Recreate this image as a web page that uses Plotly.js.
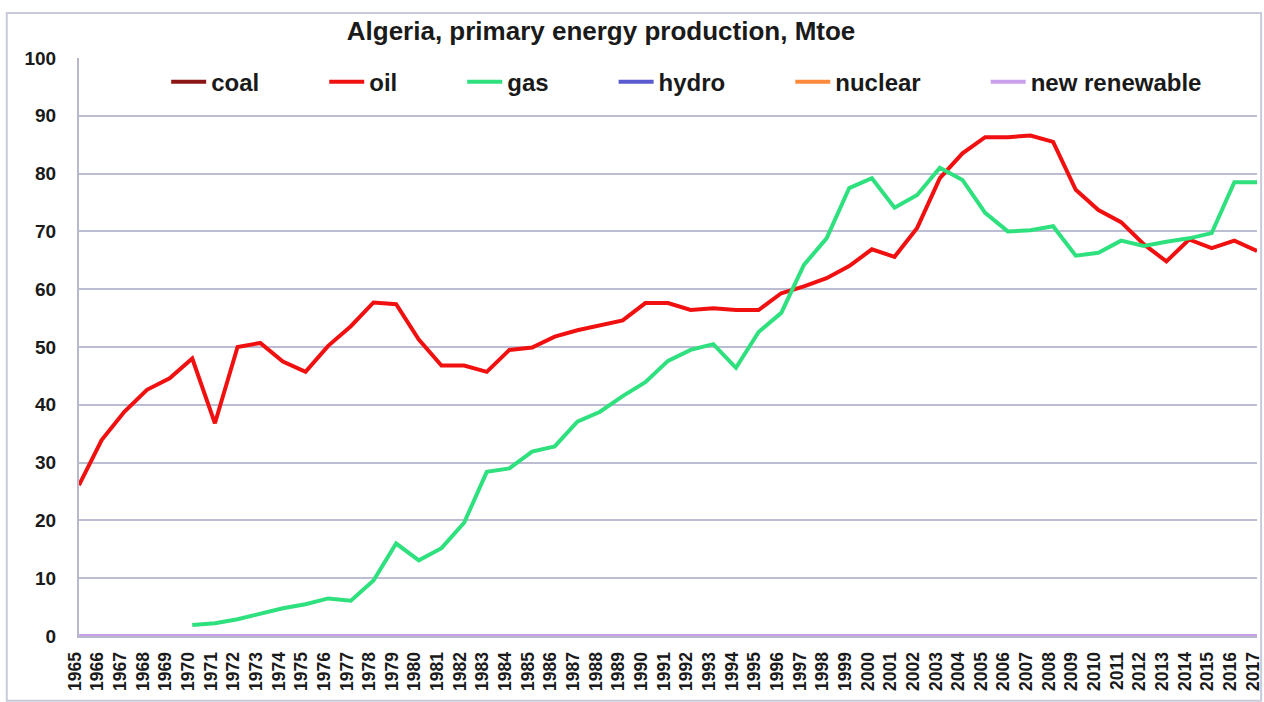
<!DOCTYPE html>
<html>
<head>
<meta charset="utf-8">
<script src="https://cdn.plot.ly/plotly-3.0.1.min.js"></script>
<style>html,body{margin:0;padding:0;background:#fff;}#chart{width:1264px;height:702px;}</style>
</head>
<body>
<div id="chart"></div>
<script>
const years = [];
for (let y = 1965; y <= 2017; y++) years.push(String(y));

const oil = [26.1, 33.9, 38.8, 42.6, 44.6, 48.0, 36.8, 50.0, 50.7, 47.5,
  45.7, 50.2, 53.6, 57.7, 57.4, 51.3, 46.8, 46.8, 45.7, 49.5,
  49.9, 51.8, 52.9, 53.7, 54.6, 57.6, 57.6, 56.4, 56.7, 56.4,
  56.4, 59.3, 60.5, 61.9, 64.0, 66.9, 65.6, 70.6, 79.2, 83.5,
  86.3, 86.3, 86.6, 85.5, 77.2, 73.7, 71.6, 67.8, 64.8, 68.6,
  67.1, 68.4, 66.6];

const gas = [null, null, null, null, null, 1.9, 2.2, 2.9, 3.9, 4.8,
  5.5, 6.5, 6.1, 9.6, 16.0, 13.1, 15.2, 19.6, 28.4, 29.0,
  31.9, 32.8, 37.1, 38.8, 41.5, 43.9, 47.6, 49.5, 50.5, 46.4,
  52.6, 55.9, 64.2, 68.8, 77.5, 79.2, 74.1, 76.3, 81.0, 78.9,
  73.2, 70.0, 70.2, 70.9, 65.8, 66.3, 68.4, 67.5, 68.2, 68.8,
  69.7, 78.5, 78.5];

const coal = years.map(() => 0);
const hydro = years.map(() => 0);
const nuclear = years.map(() => 0);
const renew = years.map(() => 0);

const seriesNames = ['coal', 'oil', 'gas', 'hydro', 'nuclear', 'new renewable'];
const seriesData = [coal, oil, gas, hydro, nuclear, renew];
const seriesColors = ['#8b1414', '#f01010', '#2ee07e', '#5a5ad0', '#ff8a3c', '#c9a0ec'];

const pad = '\u00a0'.repeat(9);
const traces = seriesNames.map((n, i) => ({
  type: 'scatter', mode: 'lines', name: i < seriesNames.length - 1 ? n + pad : n,
  x: years, y: seriesData[i],
  line: {color: seriesColors[i], width: 4}, connectgaps: false
}));

const font = {family: '"Liberation Sans", Arial, sans-serif', color: '#1a1a1a', weight: 'bold'};

const layout = {
  width: 1264, height: 702,
  margin: {l: 79, r: 7, t: 58, b: 66, autoexpand: false},
  paper_bgcolor: '#ffffff', plot_bgcolor: '#ffffff',
  showlegend: true,
  title: {text: 'Algeria, primary energy production, Mtoe', x: 0.4755, xanchor: 'center', y: 0.956, yanchor: 'middle',
    font: Object.assign({}, font, {size: 26})},
  legend: {orientation: 'h', x: 0.074, xanchor: 'left', y: 0.997, yanchor: 'top',
    itemwidth: 35,
    font: Object.assign({}, font, {size: 24}), bgcolor: 'rgba(0,0,0,0)', tracegroupgap: 0},
  xaxis: {type: 'category', tickmode: 'linear', dtick: 1, tickangle: -90, showgrid: false, zeroline: false,
    showline: true, linecolor: '#b8b8cc', linewidth: 2, ticks: '',
    tickfont: Object.assign({}, font, {size: 17.5}), automargin: false, ticklabelstandoff: 7, ticklabelshift: -4},
  yaxis: {range: [0, 100], dtick: 10, tick0: 0, showgrid: true, gridcolor: '#bcbcd2', gridwidth: 2,
    zeroline: false, showline: true, linecolor: '#b8b8cc', linewidth: 2, ticks: '',
    tickfont: Object.assign({}, font, {size: 19}), automargin: false, ticklabelstandoff: 17},
  shapes: [{type: 'rect', xref: 'paper', yref: 'paper', x0: -0.0613, x1: 1.0035, y0: -0.112, y1: 1.078,
    line: {color: '#c8cadc', width: 2}, fillcolor: 'rgba(0,0,0,0)', layer: 'below'}]
};

Plotly.newPlot('chart', traces, layout, {displayModeBar: false, staticPlot: true});
</script>
</body>
</html>
